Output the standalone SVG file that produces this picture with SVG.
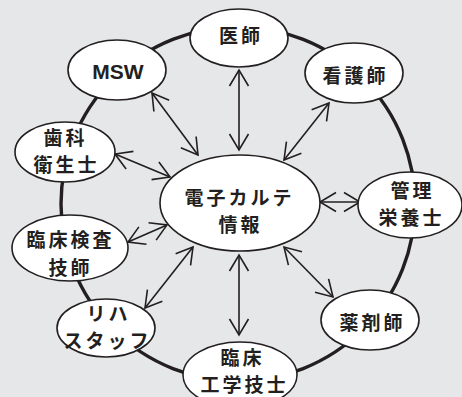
<svg xmlns="http://www.w3.org/2000/svg" width="462" height="397" viewBox="0 0 462 397">
<defs>
<style>
.node ellipse{fill:#fff;stroke:#231f20;stroke-width:1.6}
.t{font-family:"Noto Sans CJK JP","Noto Sans",sans-serif;font-weight:bold;font-size:19px;letter-spacing:3px;fill:#231f20;text-anchor:middle}
.en{font-family:"Liberation Sans",Arial,sans-serif;font-weight:bold;font-size:21px;fill:#231f20;text-anchor:middle}
.conn line{stroke:#231f20;stroke-width:1.6;marker-start:url(#ah);marker-end:url(#ah)}
</style>
<marker id="ah" markerUnits="userSpaceOnUse" markerWidth="20" markerHeight="20" viewBox="-18 -10 20 20" refX="0" refY="0" orient="auto-start-reverse" overflow="visible">
<path d="M-16,-9.5 L0,0 L-16,9.5" fill="none" stroke="#231f20" stroke-width="1.6"/>
</marker>
</defs>
<rect width="462" height="397" fill="#e6e7e8"/>
<circle id="ring" cx="238" cy="204" r="177" fill="none" stroke="#231f20" stroke-width="3.4"/>
<g id="connectors" class="conn">
<line x1="152" y1="93" x2="198" y2="155"/>
<line x1="115" y1="154" x2="170" y2="177"/>
<line x1="239" y1="70" x2="239" y2="150"/>
<line x1="329" y1="103" x2="284" y2="160"/>
<line x1="320" y1="202" x2="360" y2="202"/>
<line x1="284" y1="247" x2="333" y2="297"/>
<line x1="239" y1="255" x2="239" y2="335"/>
<line x1="193" y1="247" x2="145" y2="308"/>
<line x1="167" y1="225" x2="128" y2="242"/>
</g>
<g id="center" class="node"><ellipse cx="240" cy="203" rx="80" ry="48"/><text class="t" x="239.5" y="205">電子カルテ</text><text class="t" x="240.5" y="232">情報</text></g>
<g id="ishi" class="node"><ellipse cx="239" cy="38" rx="49" ry="29"/><text class="t" x="241" y="43">医師</text></g>
<g id="msw" class="node"><ellipse cx="117" cy="70" rx="49" ry="30"/><text class="en" x="118" y="79">MSW</text></g>
<g id="shika" class="node"><ellipse cx="65" cy="152" rx="50" ry="30"/><text class="t" x="65.5" y="145">歯科</text><text class="t" x="66.5" y="172">衛生士</text></g>
<g id="rinsho" class="node"><ellipse cx="70" cy="248" rx="58" ry="33"/><text class="t" x="70.5" y="247">臨床検査</text><text class="t" x="70.5" y="275">技師</text></g>
<g id="riha" class="node"><ellipse cx="106" cy="328" rx="49" ry="29"/><text class="t" x="108.5" y="321">リハ</text><text class="t" x="107.5" y="348">スタッフ</text></g>
<g id="kogaku" class="node"><ellipse cx="240" cy="375" rx="57" ry="33"/><text class="t" x="242.5" y="365">臨床</text><text class="t" x="244.5" y="392">工学技士</text></g>
<g id="yakuzai" class="node"><ellipse cx="370" cy="320" rx="49" ry="30"/><text class="t" x="372.5" y="330">薬剤師</text></g>
<g id="eiyo" class="node"><ellipse cx="410" cy="205" rx="52" ry="33"/><text class="t" x="412.5" y="198">管理</text><text class="t" x="411.5" y="225">栄養士</text></g>
<g id="kango" class="node"><ellipse cx="354" cy="73" rx="49" ry="30"/><text class="t" x="355.5" y="83">看護師</text></g>
</svg>
